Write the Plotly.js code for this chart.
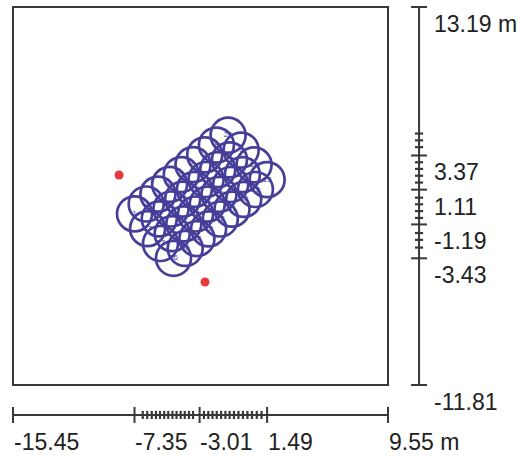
<!DOCTYPE html>
<html><head><meta charset="utf-8">
<script src="https://cdn.plot.ly/plotly-3.0.1.min.js"></script>
<style>html,body{margin:0;padding:0;background:#fff}#chart{width:522px;height:456px}</style>
</head><body><div id="chart"></div>
<script>
// Circle (element) centres in metres
const centerX = [
  -4.75, -3.97, -3.19, -2.41, -1.63, -0.85, -0.07, 0.71, 1.49,
  -5.62, -4.84, -4.06, -3.28, -2.50, -1.72, -0.94, -0.16, 0.62,
  -6.48, -5.70, -4.92, -4.14, -3.36, -2.58, -1.80, -1.02, -0.24,
  -7.35, -6.57, -5.79, -5.01, -4.23, -3.45, -2.67, -1.89, -1.11];
const centerY = [
  -3.43, -2.78, -2.13, -1.48, -0.83, -0.18, 0.47, 1.12, 1.77,
  -2.45, -1.80, -1.15, -0.50, 0.15, 0.80, 1.45, 2.10, 2.75,
  -1.47, -0.82, -0.17, 0.48, 1.13, 1.78, 2.43, 3.08, 3.73,
  -0.49, 0.16, 0.81, 1.46, 2.11, 2.76, 3.41, 4.06, 4.71];
const centerLabel = [
  '36','35','34','33','32','31','30','29','19',
  '27','28','25','24','23','22','21','20','18',
  '17','16','15','14','13','12','11','10','9',
  '1','2','3','4','5','6','7','8','26'];
// Red reference points
const pointX = [-8.38, -2.65];
const pointY = [2.08, -5.0];
// Scale labels (major ticks)
const xTickValues = [-15.45, -7.35, -3.01, 1.49, 9.55];
const xTickLabels = ['-15.45', '-7.35', '-3.01', '1.49', '9.55 m'];
const yTickValues = [13.19, 3.37, 1.11, -1.19, -3.43, -11.81];
const yTickLabels = ['13.19 m', '3.37', '1.11', '-1.19', '-3.43', '-11.81'];
// Minor tick marks
const xMinorTicks = [-6.80, -6.50, -6.20, -5.92, -5.65, -5.37, -5.10, -4.82, -4.55, -4.27, -4.00, -3.72, -3.45,
                     -2.72, -2.43, -2.15, -1.87, -1.58, -1.29, -1.01, -0.72, -0.42, -0.12, 0.18, 0.48, 0.80, 1.12];
const yMinorTicks = [4.82, 4.37, 3.92, 2.92, 2.48, 2.03, 1.58, 0.58, 0.14, -0.31, -0.76, -1.76, -2.21, -2.72];
const areaX = [-15.45, 9.55];
const areaY = [-11.81, 13.19];

// layout constants
const LINE = '#383838';
const BLUE = '#463e98';
const xAxisY = -13.79;   // position of the bottom scale
const yAxisX = 11.62;    // position of the right scale
const bigT = 0.53, smallT = 0.27;

const shapes = [];
shapes.push({type:'rect', x0:areaX[0], x1:areaX[1], y0:areaY[0], y1:areaY[1], line:{color:LINE, width:2}});
shapes.push({type:'line', x0:areaX[0], x1:areaX[1], y0:xAxisY, y1:xAxisY, line:{color:LINE, width:2}});
shapes.push({type:'line', x0:yAxisX, x1:yAxisX, y0:areaY[0], y1:areaY[1], line:{color:LINE, width:2}});
xTickValues.forEach(v => shapes.push({type:'line', x0:v, x1:v, y0:xAxisY-bigT, y1:xAxisY+bigT, line:{color:LINE, width:2}}));
yTickValues.forEach(v => shapes.push({type:'line', y0:v, y1:v, x0:yAxisX-bigT, x1:yAxisX+bigT, line:{color:LINE, width:2}}));
xMinorTicks.forEach(v => shapes.push({type:'line', x0:v, x1:v, y0:xAxisY-smallT, y1:xAxisY+smallT, line:{color:LINE, width:2.2}}));
yMinorTicks.forEach(v => shapes.push({type:'line', y0:v, y1:v, x0:yAxisX-smallT, x1:yAxisX+smallT, line:{color:LINE, width:2.2}}));

const FONT = {family:'Liberation Sans, Arial, sans-serif', size:23, color:'#222'};
const annotations = [];
xTickValues.forEach((v,i) => annotations.push({x:v-0.1, y:-15.6, xref:'x', yref:'y', text:xTickLabels[i], showarrow:false, xanchor:'left', yanchor:'middle', font:FONT}));
yTickValues.forEach((v,i) => annotations.push({x:12.5, y:v-1.12, xref:'x', yref:'y', text:yTickLabels[i], showarrow:false, xanchor:'left', yanchor:'middle', font:FONT}));

const traces = [
  {x:centerX, y:centerY, text:centerLabel, mode:'markers+text', type:'scatter',
   marker:{symbol:'circle-open', size:35, color:BLUE, line:{width:2.7, color:BLUE}},
   textfont:{size:8, color:BLUE, family:'Liberation Sans, Arial'}, textposition:'middle center',
   hoverinfo:'skip', cliponaxis:false},
  {x:pointX, y:pointY, mode:'markers', type:'scatter',
   marker:{symbol:'circle', size:9, color:'#e53a3f'}, hoverinfo:'skip'}
];

const layout = {
  width:522, height:456, margin:{l:0, r:0, t:0, b:0},
  paper_bgcolor:'#fff', plot_bgcolor:'#fff', showlegend:false,
  xaxis:{range:[-16.317, 18.483], visible:false, fixedrange:true},
  yaxis:{range:[-16.506, 13.653], visible:false, fixedrange:true},
  shapes:shapes, annotations:annotations
};
Plotly.newPlot('chart', traces, layout, {staticPlot:true, displayModeBar:false});
</script></body></html>
